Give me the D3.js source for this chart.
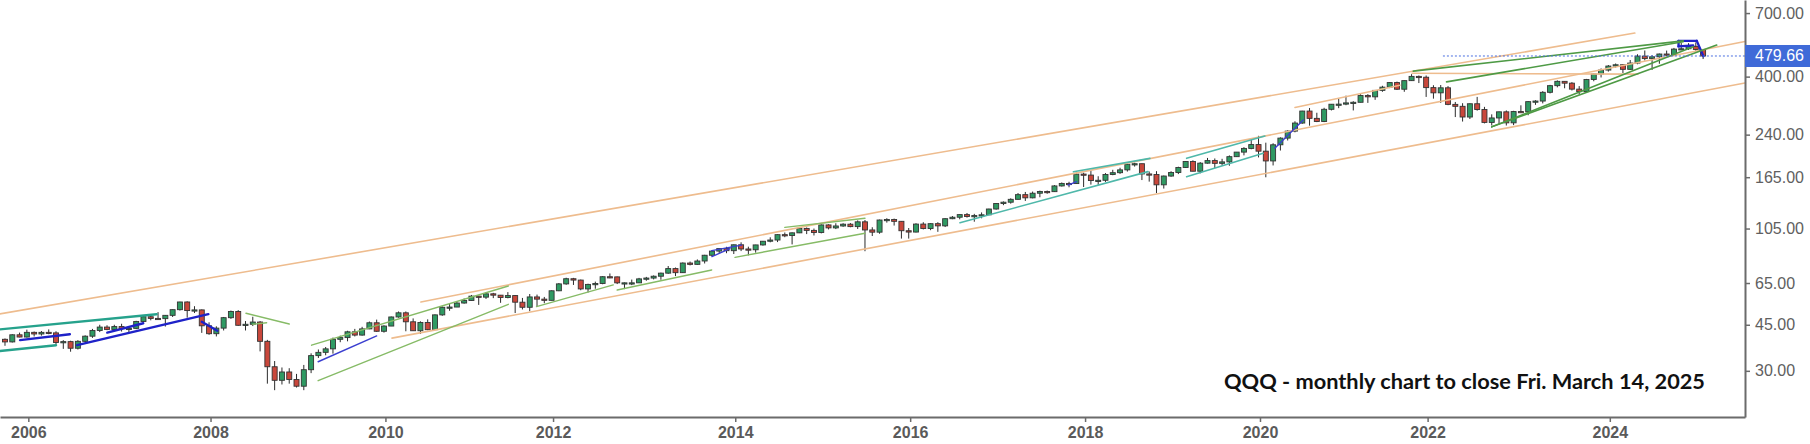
<!DOCTYPE html>
<html><head><meta charset="utf-8">
<script src="https://cdn.jsdelivr.net/npm/d3@7"></script>
<style>html,body{margin:0;padding:0;background:#fff;overflow:hidden}</style>
</head><body>
<svg id="c" width="1810" height="444"></svg>
<script>
// ---------------- DATA ----------------
const firstMonth = "2005-10";
const lastMonth = "2025-03";
const opens = [
39.6,38.7,41.2,
40.4,42.1,41.5,42.1,41.9,38.5,38.8,36.6,38.9,40.7,42.8,44.1,
43.2,44.3,43.5,43.6,46.3,48.3,47.6,47.5,48.9,51.4,55.0,51.0,
51.3,44.6,41.6,43.7,47.9,50.6,44.8,45.2,46.1,38.9,31.1,27.6,
29.7,27.8,26.2,30.3,34.3,35.3,36.4,39.6,40.2,42.3,41.1,43.4,
45.8,42.5,44.5,48.2,50.0,46.2,42.7,45.9,43.1,49.1,52.5,52.6,
54.5,55.7,57.9,57.4,59.1,58.4,57.2,58.2,54.9,52.5,57.5,56.4,
55.8,60.7,64.5,67.5,66.7,61.7,64.2,64.7,68.7,68.6,65.1,65.1,
65.1,67.4,67.9,69.0,70.9,73.8,71.2,77.5,76.6,78.9,83.0,86.1,
88.0,86.4,91.0,87.7,87.1,90.9,93.9,94.9,99.5,98.8,101.1,105.1,
103.3,101.4,108.4,105.6,107.4,109.1,106.8,111.4,103.7,101.7,113.2,113.7,
111.9,103.0,101.8,109.2,105.0,109.6,107.5,114.5,116.0,118.7,116.7,117.7,
118.5,124.7,130.9,132.4,135.8,141.5,137.6,143.3,145.5,145.3,152.8,156.2,
156.0,169.6,168.1,160.2,160.6,169.0,171.7,176.0,185.0,185.8,169.8,168.9,
154.3,166.7,171.9,179.7,189.5,173.9,186.7,191.0,186.4,188.8,197.7,205.8,
212.6,219.9,207.5,190.4,219.5,232.8,247.6,265.8,295.4,277.0,269.4,300.0,
313.7,314.0,317.4,319.1,338.6,334.8,354.4,364.6,379.6,358.0,386.1,400.8,
397.9,363.1,346.8,362.5,313.3,308.0,280.3,315.0,299.5,267.3,278.0,293.4,
266.3,294.1,293.6,320.9,322.6,348.4,369.4,383.7,377.6,358.3,350.6,389.9,
409.5,423.8,439.0,444.0,426.5,450.7,479.1,468.8,476.3,488.1,483.9,509.7,
511.2,522.3,508.2];
const highs = [
39.9,41.4,42.0,
43.1,42.4,42.6,43.2,42.5,39.3,39.1,39.3,41.0,43.4,45.0,44.8,
45.0,45.4,44.2,46.6,48.5,48.9,50.3,49.0,51.5,55.1,55.3,53.0,
51.5,46.0,44.4,48.2,51.0,51.2,46.5,48.3,46.5,39.4,32.7,30.9,
30.7,29.2,31.6,35.0,36.2,37.0,40.2,40.9,42.7,43.4,44.2,46.3,
47.1,44.8,48.4,50.6,50.6,47.6,46.4,47.2,49.3,52.9,54.0,55.0,
56.7,58.5,58.1,59.9,59.6,58.5,60.0,58.4,57.0,59.0,58.7,57.5,
60.9,65.0,68.1,68.0,67.0,64.6,65.8,69.0,70.7,68.8,65.3,67.0,
68.0,68.6,69.5,71.2,75.5,74.5,77.9,78.5,80.0,83.3,86.3,88.1,
89.4,91.2,93.0,89.5,91.0,94.1,97.2,99.8,101.4,101.5,105.7,106.0,
105.0,108.9,109.0,110.0,110.0,110.2,112.8,113.2,106.2,113.6,115.0,114.6,
112.0,105.5,110.0,111.0,110.0,111.0,115.0,117.2,119.0,120.4,119.5,121.0,
125.0,131.2,133.3,137.0,143.5,144.9,145.4,146.6,146.7,153.9,157.5,158.5,
172.0,171.7,174.7,166.4,171.1,176.1,179.3,186.0,187.5,185.9,173.5,174.0,
167.4,173.9,181.0,190.0,191.5,188.5,195.5,194.6,194.0,199.9,206.0,215.0,
230.0,237.5,223.6,222.5,234.4,249.6,270.0,296.0,303.5,291.0,304.0,314.0,
330.0,338.2,322.2,342.8,342.8,355.0,369.0,381.0,382.8,386.4,408.7,404.0,
404.0,370.8,371.5,368.0,320.0,316.5,315.9,334.6,306.5,287.0,294.0,297.0,
296.0,310.7,322.0,325.0,352.0,372.0,387.0,384.0,381.0,368.0,392.0,412.0,
430.0,443.0,449.0,446.0,463.0,487.0,503.5,483.0,490.0,503.0,515.0,539.0,
537.0,540.8,509.0];
const lows = [
37.4,38.5,40.3,
40.2,40.6,40.9,41.4,37.9,36.4,35.5,36.2,38.6,40.1,42.2,42.9,
42.7,42.4,41.8,43.3,46.0,46.8,47.2,44.3,48.2,51.0,47.9,49.9,
41.9,41.2,40.6,42.8,47.4,44.6,42.8,44.5,35.6,26.8,25.3,26.6,
26.8,25.9,25.3,29.4,33.6,34.4,34.9,38.6,38.9,40.6,40.9,43.3,
42.3,42.0,44.5,47.9,42.5,42.7,41.5,42.9,43.0,48.7,50.9,52.6,
54.2,55.5,53.6,56.5,56.9,54.6,56.8,49.9,51.5,50.7,52.7,54.4,
55.8,60.5,64.0,63.9,61.0,59.8,61.8,64.3,67.8,64.4,61.6,63.8,
65.1,66.3,67.1,66.9,70.5,69.1,71.0,75.9,76.3,77.2,82.4,84.5,
84.5,83.9,86.1,82.9,84.9,90.3,93.0,93.2,97.3,91.3,100.9,100.0,
98.8,100.6,104.2,104.5,106.6,106.2,104.6,86.0,98.3,100.3,110.6,107.8,
96.1,96.1,101.5,104.2,103.5,102.0,106.4,114.0,113.9,115.6,111.5,114.9,
118.4,124.0,129.0,130.7,135.5,133.9,137.0,138.3,142.6,145.0,152.0,151.0,
156.0,151.4,154.6,154.2,158.3,167.9,169.9,173.4,181.2,160.9,158.7,143.5,
149.3,165.6,169.6,179.0,173.8,170.7,186.0,178.7,183.0,182.5,197.5,200.0,
211.0,196.4,164.9,183.0,208.7,228.0,245.0,264.0,259.7,268.0,268.0,297.0,
303.0,311.0,297.0,319.0,317.4,326.0,350.0,361.5,355.7,350.0,385.0,378.0,
334.5,329.5,317.4,311.0,280.2,269.3,275.4,296.5,265.0,260.1,263.0,260.1,
261.0,291.0,284.7,312.0,316.0,345.0,364.0,361.0,354.0,342.0,349.0,384.0,
397.0,418.0,433.0,413.0,425.0,446.0,461.0,424.3,448.0,481.0,479.0,505.0,
506.0,502.0,467.0];
const closes = [
38.7,41.2,40.4,
42.1,41.5,42.1,41.9,38.5,38.8,36.6,38.9,40.7,42.8,44.1,43.2,
44.3,43.5,43.6,46.3,48.3,47.6,47.5,48.9,51.4,55.0,51.0,51.3,
44.6,41.6,43.7,47.9,50.6,44.8,45.2,46.1,38.9,31.1,27.6,29.7,
27.8,26.2,30.3,34.3,35.3,36.4,39.6,40.2,42.3,41.1,43.4,45.8,
42.5,44.5,48.2,50.0,46.2,42.7,45.9,43.1,49.1,52.5,52.6,54.5,
55.7,57.9,57.4,59.1,58.4,57.2,58.2,54.9,52.5,57.5,56.4,55.8,
60.7,64.5,67.5,66.7,61.7,64.2,64.7,68.7,68.6,65.1,65.1,65.1,
67.4,67.9,69.0,70.9,73.8,71.2,77.5,76.6,78.9,83.0,86.1,88.0,
86.4,91.0,87.7,87.1,90.9,93.9,94.9,99.5,98.8,101.1,105.1,103.3,
101.4,108.4,105.6,107.4,109.1,106.8,111.4,103.7,101.7,113.2,113.7,111.9,
103.0,101.8,109.2,105.0,109.6,107.5,114.5,116.0,118.7,116.7,117.7,118.5,
124.7,130.9,132.4,135.8,141.5,137.6,143.3,145.5,145.3,152.8,156.2,156.0,
169.6,168.1,160.2,160.6,169.0,171.7,176.0,185.0,185.8,169.8,168.9,154.3,
166.7,171.9,179.7,189.5,173.9,186.7,191.0,186.4,188.8,197.7,205.8,212.6,
219.9,207.5,190.4,219.5,232.8,247.6,265.8,295.4,277.0,269.4,300.0,313.7,
314.0,317.4,319.1,338.6,334.8,354.4,364.6,379.6,358.0,386.1,400.8,397.9,
363.1,346.8,362.5,313.3,308.0,280.3,315.0,299.5,267.3,278.0,293.4,266.3,
294.1,293.6,320.9,322.6,348.4,369.4,383.7,377.6,358.3,350.6,389.9,409.5,
423.8,439.0,444.0,426.5,450.7,479.1,468.8,476.3,488.1,483.9,509.7,511.2,
522.3,508.2,479.66];

const priceTicks = [30, 45, 65, 105, 165, 240, 400, 700];
const yearLabels = ["2006","2008","2010","2012","2014","2016","2018","2020","2022","2024"];
const yearTickMonths = ["2006-01","2008-02","2010-02","2012-01","2014-02","2016-02","2018-02","2020-02","2022-01","2024-02"];
const lastPrice = 479.66;
const lastPriceLineFrom = "2022-03-10";
const chartTitle = "QQQ - monthly chart to close Fri. March 14, 2025";

// trend lines: [fromDate, fromPrice, toDate, toPrice]
const orangeLines = [
  ["2005-09-10", 49.5, "2024-05-20", 587],
  ["2010-07-03", 55.0, "2025-08-23", 544.6],
  ["2010-03-04", 40.0, "2025-08-23", 378],
  ["2021-11-03", 412, "2024-06-03", 409],
  ["2020-07-01", 305, "2021-09-13", 371]
];
const tealThickLines = [
  ["2005-09-10", 43.2, "2007-06-25", 49.4],
  ["2005-09-10", 35.7, "2006-05-01", 37.6]
];
const blueThickLines = [
  ["2005-12-03", 39.3, "2006-06-28", 41.4],
  ["2006-07-28", 37.6, "2008-01-28", 49.4],
  ["2006-12-02", 42.0, "2007-04-30", 45.6],
  ["2007-12-31", 46.2, "2008-03-05", 42.7],
  ["2024-11-20", 548, "2025-02-05", 548],
  ["2024-11-20", 548, "2024-11-20", 522],
  ["2024-11-20", 522, "2025-01-20", 526],
  ["2025-02-05", 548, "2025-03-02", 479]
];
const blueThinLines = [
  ["2009-04-30", 32.5, "2010-01-01", 40.8],
  ["2013-10-30", 86.4, "2014-03-03", 90.7],
  ["2013-11-01", 82.0, "2014-01-15", 88.0],
  ["2017-11-27", 154, "2018-01-02", 158.6],
  ["2020-04-08", 212.7, "2020-08-05", 272.9]
];
const lightGreenLines = [
  ["2008-07-03", 49.8, "2009-01-01", 45.3],
  ["2008-08-01", 45.2, "2008-09-28", 45.8],
  ["2009-04-03", 37.6, "2011-07-03", 63.3],
  ["2009-04-30", 27.5, "2011-07-03", 53.9],
  ["2011-10-29", 52.8, "2012-09-15", 63.9],
  ["2012-10-01", 61.1, "2013-10-30", 72.9],
  ["2014-02-06", 81.5, "2015-08-01", 100.7],
  ["2014-09-01", 106.1, "2015-08-01", 114.9]
];
const tealThinLines = [
  ["2016-09-02", 110.5, "2018-10-26", 173.3],
  ["2017-12-19", 173.1, "2018-11-04", 194.8],
  ["2019-04-05", 165.7, "2020-02-20", 203.6],
  ["2019-04-05", 194.8, "2020-02-27", 237]
];
const greenLines = [
  ["2022-10-01", 257, "2025-04-27", 528],
  ["2022-10-01", 257, "2025-01-20", 520],
  ["2021-11-08", 420, "2024-12-09", 548],
  ["2022-03-25", 382, "2024-12-09", 544]
];

// ---------------- CHART ----------------
const W = 1810, H = 444;
const plotRight = 1745, plotBottom = 417;
const svg = d3.select("#c");

const months = d3.timeMonth.range(d3.timeParse("%Y-%m")(firstMonth),
                                   d3.timeMonth.offset(d3.timeParse("%Y-%m")(lastMonth), 1));
const n = months.length;
const base = 2005 * 12 + 9;
function mIdx(s) {
  const p = s.split("-").map(Number);
  return p[0] * 12 + (p[1] - 1) - base + ((p[2] || 1) - 1) / 30;
}

const x = d3.scaleLinear().domain([-0.686, 238.75]).range([0, plotRight]);
const y = d3.scaleLog().domain([19.98, 785.3]).range([plotBottom, 0]);

const gCandles = svg.append("g");
const gAnn = svg.append("g");

// candles
const idx = d3.range(n);
const bw = 5;
gCandles.selectAll("line.wick").data(idx).join("line")
  .attr("x1", i => x(i)).attr("x2", i => x(i))
  .attr("y1", i => y(highs[i])).attr("y2", i => y(lows[i]))
  .attr("stroke", "#2b2b2b").attr("stroke-width", 1);
gCandles.selectAll("rect.body").data(idx).join("rect")
  .attr("x", i => x(i) - bw / 2)
  .attr("y", i => y(Math.max(opens[i], closes[i])))
  .attr("width", bw)
  .attr("height", i => Math.max(1.2, Math.abs(y(opens[i]) - y(closes[i]))))
  .attr("fill", i => closes[i] >= opens[i] ? "#2f9a63" : "#c9473b")
  .attr("stroke", "#333").attr("stroke-width", 0.9);

function drawLines(arr, color, width) {
  gAnn.append("g").selectAll("line").data(arr).join("line")
    .attr("x1", d => x(mIdx(d[0]))).attr("y1", d => y(d[1]))
    .attr("x2", d => x(mIdx(d[2]))).attr("y2", d => y(d[3]))
    .attr("stroke", color).attr("stroke-width", width)
    .attr("stroke-linecap", "round");
}
drawLines(orangeLines, "#eebc8e", 1.6);
drawLines(tealThickLines, "#26a28c", 2.4);
drawLines(blueThickLines, "#1e22c8", 2.4);
drawLines(blueThinLines, "#3b3fd0", 1.4);
drawLines(lightGreenLines, "#86bb66", 1.4);
drawLines(tealThinLines, "#4fb8aa", 1.6);
drawLines(greenLines, "#4e9a45", 1.6);

// last price dotted line
gAnn.append("line")
  .attr("x1", x(mIdx(lastPriceLineFrom))).attr("x2", plotRight)
  .attr("y1", y(lastPrice)).attr("y2", y(lastPrice))
  .attr("stroke", "#4a6fe0").attr("stroke-width", 1).attr("stroke-dasharray", "2,2");

// bottom axis
const xAxis = d3.axisBottom(x)
  .tickValues(yearTickMonths.map(m => mIdx(m) + 0.2))
  .tickFormat((d, i) => yearLabels[i])
  .tickSize(5).tickSizeOuter(0).tickPadding(5);
const gx = svg.append("g").attr("transform", `translate(0,${plotBottom})`).call(xAxis);
gx.select(".domain").attr("stroke", "#6b6b6b").attr("stroke-width", 2);
gx.selectAll(".tick line").attr("stroke", "#6b6b6b").attr("stroke-width", 1.5);
gx.selectAll("text").attr("fill", "#5a5a5a")
  .style("font-family", "'Liberation Sans', Arial, sans-serif")
  .style("font-size", "16px").style("font-weight", "bold");

// right axis
const yAxis = d3.axisRight(y).tickValues(priceTicks).tickFormat(d3.format(".2f"))
  .tickSize(5).tickSizeOuter(0).tickPadding(5);
const gy = svg.append("g").attr("transform", `translate(${plotRight},0)`).call(yAxis);
gy.select(".domain").attr("stroke", "#6b6b6b").attr("stroke-width", 2);
gy.selectAll(".tick line").attr("stroke", "#6b6b6b").attr("stroke-width", 1.5);
gy.selectAll("text").attr("fill", "#606060")
  .style("font-family", "'Liberation Sans', Arial, sans-serif")
  .style("font-size", "16px");

// last price badge
const gb = svg.append("g");
gb.append("rect").attr("x", plotRight).attr("y", y(lastPrice) - 11)
  .attr("width", W - plotRight).attr("height", 22).attr("fill", "#3f6ad8");
gb.append("text").attr("x", plotRight + 10).attr("y", y(lastPrice)).attr("dy", "0.34em")
  .attr("fill", "#fff").style("font-family", "'Liberation Sans', Arial, sans-serif")
  .style("font-size", "16px").text(d3.format(".2f")(lastPrice));

// title
const t = svg.append("text").attr("x", 1705).attr("y", 389).attr("text-anchor", "end")
  .style("font-family", "Lato, 'Open Sans', sans-serif").style("font-weight", "bold")
  .style("font-size", "20px").attr("fill", "#111").text(chartTitle);
const tl = t.node().getComputedTextLength();
if (Math.abs(tl - 481) > 4) t.attr("textLength", 481).attr("lengthAdjust", "spacingAndGlyphs");
</script>
</body></html>
